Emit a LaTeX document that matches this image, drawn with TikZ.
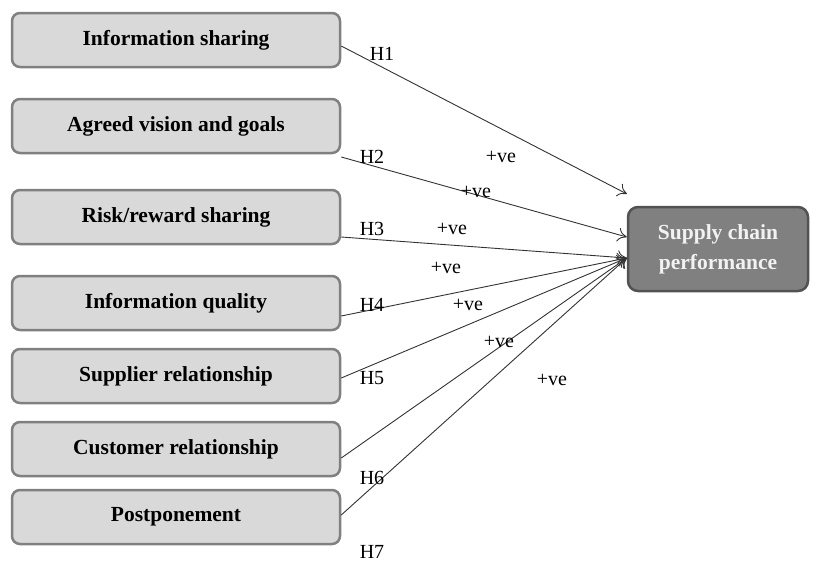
\documentclass[tikz,border=0pt]{standalone}
\usepackage{fontspec}
\setmainfont{Liberation Serif}
\usetikzlibrary{arrows.meta,calc}
\begin{document}
\begin{tikzpicture}[x=1pt,y=-1pt,
  leftbox/.style={draw=black!50,line width=2.5pt,fill=black!15,rounded corners=8pt,
    minimum width=328pt,minimum height=54pt,inner sep=0pt,
    font=\fontsize{21.5}{24}\selectfont\bfseries},
  outbox/.style={draw=black!68,line width=2.5pt,fill=black!50,rounded corners=10pt,
    minimum width=180pt,minimum height=84pt,inner sep=0pt,align=center,text=white!95!black,
    font=\fontsize{21.5}{30}\selectfont\bfseries},
  link/.style={draw=black!80,line width=0.9pt,-{To[length=9pt,width=14pt]}},
  lab/.style={font=\fontsize{20}{22}\selectfont,inner sep=0pt}]
\useasboundingbox (0,0) rectangle (820,562);
\node[leftbox] (b1) at (176,40) {Information sharing};
\node[leftbox] (b2) at (176,126) {Agreed vision and goals};
\node[leftbox] (b3) at (176,217) {Risk/reward sharing};
\node[leftbox] (b4) at (176,303) {Information quality};
\node[leftbox] (b5) at (176,376) {Supplier relationship};
\node[leftbox] (b6) at (176,449) {Customer relationship};
\node[leftbox] (b7) at (176,517) {Postponement};
\node[outbox] (scp) at (718,249) {Supply chain\\performance};
\coordinate (t1) at (627,194);
\draw[link] ([yshift=-6pt]b1.east) -- (t1);
\draw[link] ([yshift=-31pt]b2.east) -- ([yshift=12pt]scp.west);
\draw[link] ([yshift=-20pt]b3.east) -- ([yshift=-9pt]scp.west);
\draw[link] ([yshift=-13pt]b4.east) -- ([yshift=-9pt]scp.west);
\draw[link] ([yshift=-2pt]b5.east) -- ([yshift=-9pt]scp.west);
\draw[link] ([yshift=-9pt]b6.east) -- ([yshift=-9pt]scp.west);
\draw[link] ([yshift=2pt]b7.east) -- ([yshift=-9pt]scp.west);
\node[lab] (h1) at (382,54) {H1};
\node[lab] (h2) at (372,157) {H2};
\node[lab] (h3) at (372,229) {H3};
\node[lab] (h4) at (372,305) {H4};
\node[lab] (h5) at (372,378) {H5};
\node[lab] (h6) at (372,478) {H6};
\node[lab] (h7) at (372,552) {H7};
\node[lab] (p1) at (501,157) {+ve};
\node[lab] (p2) at (476,192) {+ve};
\node[lab] (p3) at (452,229) {+ve};
\node[lab] (p4) at (446,268) {+ve};
\node[lab] (p5) at (468,305) {+ve};
\node[lab] (p6) at (499,342) {+ve};
\node[lab] (p7) at (552,380) {+ve};
\end{tikzpicture}
\end{document}
